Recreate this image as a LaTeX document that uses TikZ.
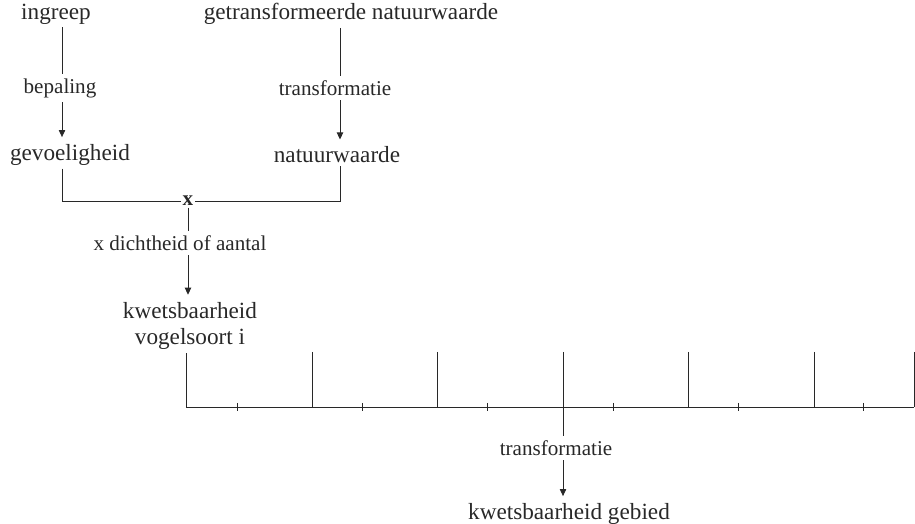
\documentclass[tikz,border=0pt]{standalone}
\usepackage{fontspec}
\setmainfont{Liberation Serif}
\usepackage{tikz}
\usetikzlibrary{arrows.meta, positioning}
\definecolor{inkgrey}{RGB}{40, 40, 40}

\begin{document}
\begin{tikzpicture}[x=0.025cm, y=-0.025cm,
  term/.style={font=\fontsize{16.5}{19}\selectfont, text=inkgrey, inner sep=2pt},
  lbl/.style={font=\fontsize{15}{17}\selectfont, text=inkgrey, inner sep=3pt},
  link/.style={draw=inkgrey, line width=0.65pt},
  flow/.style={link, -{Triangle[length=5pt, width=4.5pt]}, shorten >=3pt}]
  \useasboundingbox (0,0) rectangle (915,524);

  % Gevoeligheid
  \node[term] (ingreep) at (56,14) {ingreep};
  \node[lbl] (bepaling) at (60,88) {bepaling};
  \node[term] (gevoel) at (70,155) {gevoeligheid};
  \coordinate (lcol) at (62,0);
  \draw[link] (lcol |- ingreep.south) -- (lcol |- bepaling.north);
  \draw[flow] (lcol |- bepaling.south) -- (lcol |- gevoel.north);

  % Natuurwaarde
  \node[term] (getnat) at (351,14) {getransformeerde natuurwaarde};
  \node[lbl] (trans) at (335,88) {transformatie};
  \node[term] (natuur) at (337,155) {natuurwaarde};
  \coordinate (rcol) at (340,0);
  \draw[link] (rcol |- getnat.south) -- (rcol |- trans.north);
  \draw[flow] (rcol |- trans.south) -- (rcol |- natuur.north);

  % Product
  \node[font=\bfseries\fontsize{15}{17}\selectfont, text=inkgrey, inner sep=1pt] (times) at (188,201) {x};
  \draw[link] (lcol |- gevoel.south) |- (times);
  \draw[link] (rcol |- natuur.south) |- (times);
  \node[lbl] (dicht) at (180,243) {x dichtheid of aantal};
  \node[term, align=center] (kwets) at (190,326) {kwetsbaarheid\\vogelsoort i};
  \draw[link] (times) -- (times |- dicht.north);
  \draw[flow] (times |- dicht.south) -- (times |- kwets.north);

  % Soorten per gebied
  \coordinate (base) at (186,407);
  \coordinate (combend) at (914,407);
  \draw[link] (base |- kwets.south) -- (base) -- (combend);
  \foreach \xx in {312,437,563,688,814,914}
    \draw[link] (\xx,352) -- (\xx,407);
  \foreach \xx in {237,362,487,613,738,863}
    \draw[link] (\xx,403) -- (\xx,411);

  % Gebied
  \node[lbl] (trans2) at (556,448) {transformatie};
  \node[term] (gebied) at (569,514) {kwetsbaarheid gebied};
  \coordinate (mid) at (563,407);
  \draw[link] (mid) -- (mid |- trans2.north);
  \draw[flow] (mid |- trans2.south) -- (mid |- gebied.north);
\end{tikzpicture}
\end{document}
